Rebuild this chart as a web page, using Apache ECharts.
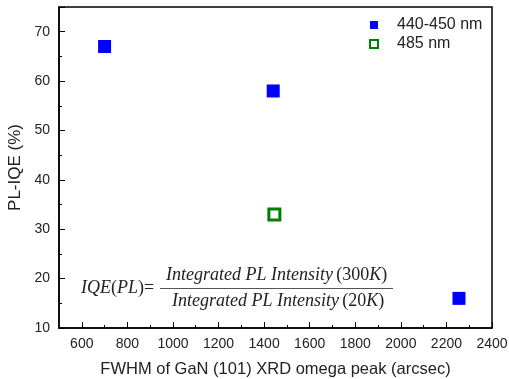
<!DOCTYPE html>
<html>
<head>
<meta charset="utf-8">
<script src="https://cdn.jsdelivr.net/npm/echarts@6/dist/echarts.min.js"></script>
<style>
  html, body { margin: 0; padding: 0; background: #fff; }
  #chart { width: 509px; height: 379px; }
</style>
</head>
<body>
<div id="chart"></div>
<script>
// data
var blueFwhm = [700, 1440, 2255];
var blueIqe = [67, 58, 16];
var greenFwhm = [1445];
var greenIqe = [33];
var xLabels = [600, 800, 1000, 1200, 1400, 1600, 1800, 2000, 2200, 2400];
var xMinorTicks = [700, 900, 1100, 1300, 1500, 1700, 1900, 2100, 2300];

function pairs(xs, ys) {
  return xs.map(function (x, i) { return [x, ys[i]]; });
}

var chart = echarts.init(document.getElementById('chart'));
var font = 'Liberation Sans, Arial, sans-serif';
var serif = 'Liberation Serif, Times New Roman, serif';
var eqRich = {
  i: { fontFamily: serif, fontStyle: 'italic', fontSize: 18, fill: '#222' },
  r: { fontFamily: serif, fontSize: 18, fill: '#222' }
};

chart.setOption({
  animation: false,
  grid: {
    left: 59, top: 7, right: 17, bottom: 51,
    containLabel: false, outerBoundsMode: 'none',
    show: true, borderColor: '#000', borderWidth: 1.5
  },
  legend: {
    left: 364, top: 12, orient: 'vertical',
    itemWidth: 8, itemHeight: 8, itemGap: 3,
    textStyle: { fontFamily: font, fontSize: 16, color: '#222', padding: [0, 0, 0, 14] },
    data: ['440-450 nm', '485 nm']
  },
  xAxis: [{
    type: 'value', min: 500, max: 2400,
    name: 'FWHM of GaN (101) XRD omega peak (arcsec)',
    nameLocation: 'middle', nameGap: 33,
    nameTextStyle: { fontFamily: font, fontSize: 16.5, color: '#222' },
    axisLine: { lineStyle: { color: '#000', width: 1.5 } },
    axisTick: { inside: true, length: 6, customValues: xLabels, lineStyle: { color: '#000' } },
    axisLabel: { customValues: xLabels, fontFamily: font, fontSize: 14, color: '#222', margin: 9,
      formatter: function (v) { return String(v); } },
    splitLine: { show: false }
  }, {
    type: 'value', min: 500, max: 2400, position: 'bottom',
    axisLine: { show: false },
    axisTick: { inside: true, length: 3, customValues: xMinorTicks, lineStyle: { color: '#000' } },
    axisLabel: { show: false },
    splitLine: { show: false }
  }],
  yAxis: {
    type: 'value', min: 10, max: 75, interval: 10,
    name: 'PL-IQE (%)',
    nameLocation: 'middle', nameGap: 33,
    nameTextStyle: { fontFamily: font, fontSize: 17, color: '#222' },
    axisLine: { lineStyle: { color: '#000', width: 1.5 } },
    axisTick: { inside: true, length: 6, lineStyle: { color: '#000' } },
    minorTick: { show: true, splitNumber: 2, length: 3, lineStyle: { color: '#000' } },
    axisLabel: { fontFamily: font, fontSize: 14, color: '#222', margin: 9,
      formatter: function (v) { return v <= 70 ? String(v) : ''; } },
    splitLine: { show: false }
  },
  series: [{
    name: '440-450 nm', type: 'scatter', symbol: 'rect', symbolSize: 13,
    itemStyle: { color: '#0000ff', opacity: 1 },
    data: pairs(blueFwhm, blueIqe)
  }, {
    name: '485 nm', type: 'scatter', symbol: 'rect', symbolSize: 11,
    itemStyle: { color: '#fff', borderColor: '#008000', borderWidth: 3, opacity: 1 },
    data: pairs(greenFwhm, greenIqe)
  }],
  graphic: [{
    type: 'text', left: 81, top: 279,
    style: { text: '{i|IQE}{r|(}{i|PL}{r|)=}', rich: eqRich }
  }, {
    type: 'text', left: 166, top: 266,
    style: { text: '{i|Integrated PL Intensity} {r|(300}{i|K}{r|)}', rich: eqRich }
  }, {
    type: 'line', shape: { x1: 160, y1: 288.5, x2: 393, y2: 288.5 },
    style: { stroke: '#555', lineWidth: 1 }
  }, {
    type: 'text', left: 172, top: 292,
    style: { text: '{i|Integrated PL Intensity} {r|(20}{i|K}{r|)}', rich: eqRich }
  }]
});
</script>
</body>
</html>
